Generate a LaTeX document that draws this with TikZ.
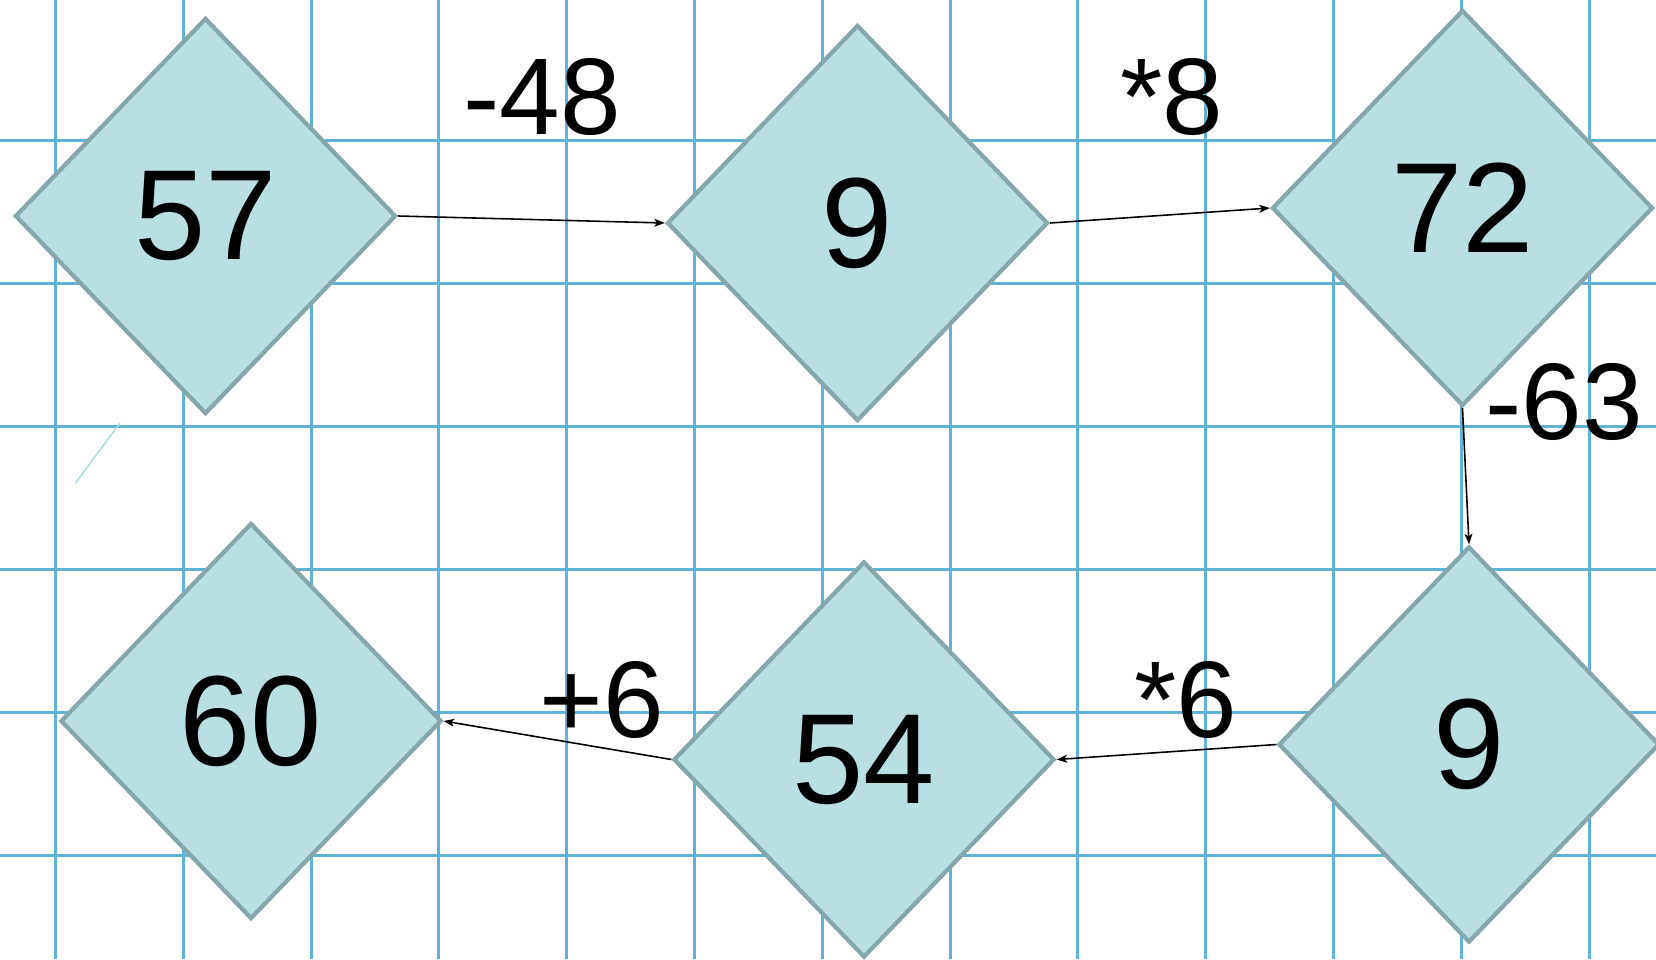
\documentclass[tikz,border=0pt]{standalone}
\usepackage{fontspec}
\setmainfont{Liberation Sans}
\usetikzlibrary{arrows,arrows.meta,shapes.geometric}
\definecolor{gridblue}{RGB}{98,178,214}
\definecolor{boxfill}{RGB}{186,223,227}
\definecolor{boxline}{RGB}{133,166,171}
\definecolor{strayline}{RGB}{168,218,224}

\begin{document}
\begin{tikzpicture}[x=0.2mm,y=-0.2mm,
gridline/.style={draw=gridblue,line width=1.7pt},
num/.style={diamond,draw=boxline,fill=boxfill,line width=2.4pt,inner sep=0pt,minimum width=7.62cm,minimum height=7.92cm,font=\fontsize{73}{80}\selectfont},
oplabel/.style={font=\fontsize{62}{70}\selectfont,inner sep=0pt},
arrow/.style={-{Stealth[length=6pt,width=4.5pt,inset=1.5pt]},line width=0.9pt}]

\useasboundingbox (0,0) rectangle (1656,959);

\foreach \gx in {0,...,12}
  \draw[gridline] (55.5+127.8*\gx,0) -- (55.5+127.8*\gx,959);
\foreach \gy in {0,...,5}
  \draw[gridline] (0,140+143*\gy) -- (1656,140+143*\gy);

\coordinate (s1) at (75.5,483);
\coordinate (s2) at (120,423);
\draw[strayline,line width=0.8pt] (s1) -- (s2);

\node[num] (A) at (205.5,216) {57};

\node[num] (B) at (857.5,223) {9};

\node[num] (C) at (1462.5,208) {72};

\node[num] (D) at (1469,744.5) {9};

\node[num] (E) at (864,759.5) {54};

\node[num] (F) at (251,721) {60};


\node[oplabel] (L1) at (542,97) {-48};

\node[oplabel] (L2) at (1172,97) {*8};

\node[oplabel] (L3) at (1564,402) {-63};

\node[oplabel] (L4) at (1186,700) {*6};

\node[oplabel] (L5) at (602,700) {+6};


\draw[arrow] (A.east) -- (B.west);

\draw[arrow] (B.east) -- (C.west);

\draw[arrow] (C.south) -- (D.north);

\draw[arrow] (D.west) -- (E.east);

\draw[arrow] (E.west) -- (F.east);

\end{tikzpicture}
\end{document}
